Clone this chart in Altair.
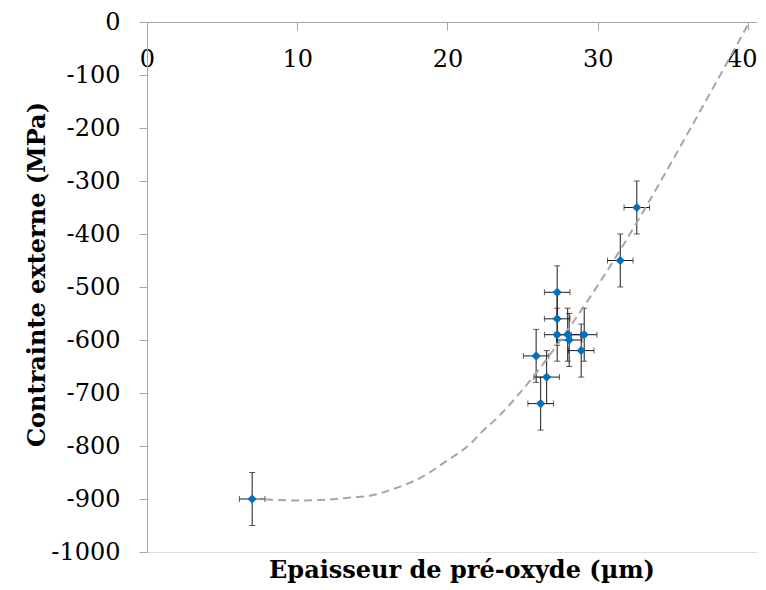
import altair as alt
import pandas as pd

# ---- data ----
thickness = [7.0, 25.9, 26.2, 26.6, 27.3, 27.3, 27.3, 28.0, 28.1, 28.9, 29.1, 31.5, 32.6]
stress = [-900, -630, -720, -670, -510, -560, -590, -590, -600, -620, -590, -450, -350]
thickness_err = [0.85] * 13
stress_err = [50] * 13

curve_x = [7.0, 8.9, 10.0, 11.5, 13.3, 15.0, 16.2, 18.2, 19.9, 21.7, 22.2, 23.3, 25.8, 28.1, 31.5, 34.3, 34.8, 40.0]
curve_y = [-900, -902, -903, -902, -898, -893, -883, -860, -829, -791, -776, -747, -666, -577, -430, -295, -270, -5]

x_ticks = [0, 10, 20, 30, 40]
y_ticks = list(range(-1000, 1, 100))

pts = pd.DataFrame({"x": thickness, "y": stress, "xe": thickness_err, "ye": stress_err})
pts["xlo"] = pts["x"] - pts["xe"]
pts["xhi"] = pts["x"] + pts["xe"]
pts["ylo"] = pts["y"] - pts["ye"]
pts["yhi"] = pts["y"] + pts["ye"]
curve = pd.DataFrame({"x": curve_x, "y": curve_y})

FONT = "DejaVu Serif"
AXIS_GRAY = "#A6A6A6"
label_expr = "datum.value < 0 ? '-' + format(-datum.value, 'd') : format(datum.value, 'd')"

xscale = alt.Scale(domain=[0, 40.6], nice=False, zero=False)
yscale = alt.Scale(domain=[-1000, 0], nice=False, zero=False)

xaxis = alt.Axis(
    values=x_ticks, orient="bottom", offset=-530, tickSize=8, labelPadding=17,
    labelFont=FONT, labelFontSize=24, labelColor="#000000",
    labelAlign=alt.ConditionalAxisLabelAlign(
        condition={"test": "datum.value >= 40", "value": "right"}, value="center"
    ),
    labelOffset=alt.ConditionalAxisNumber(
        condition={"test": "datum.value >= 40", "value": 9}, value=0
    ),
    domainColor=AXIS_GRAY, tickColor=AXIS_GRAY, grid=False, title=None,
    labelFlush=False, labelOverlap=False, labelExpr=label_expr,
)
yaxis = alt.Axis(
    values=y_ticks, orient="left", tickSize=8, labelPadding=19,
    labelFont=FONT, labelFontSize=24, labelColor="#000000",
    domainColor=AXIS_GRAY, tickColor=AXIS_GRAY, grid=False,
    labelFlush=False, labelOverlap=False, labelExpr=label_expr,
    title="Contrainte externe (MPa)", titleFont=FONT, titleFontSize=24,
    titleFontWeight="bold", titleColor="#000000", titleAngle=270,
    titleX=-103, titleY=252, titleBaseline="alphabetic", titleAlign="center",
)

X = alt.X("x:Q", scale=xscale, axis=xaxis)
Y = alt.Y("y:Q", scale=yscale, axis=yaxis)

base = alt.Chart(pts)
BAR = "#1a1a1a"

ybars = base.mark_rule(color=BAR, strokeWidth=1).encode(x=X, y=alt.Y("ylo:Q", scale=yscale, axis=yaxis), y2="yhi:Q")
xbars = base.mark_rule(color=BAR, strokeWidth=1).encode(x=alt.X("xlo:Q", scale=xscale, axis=xaxis), x2="xhi:Q", y=Y)
ycap_lo = base.mark_tick(orient="horizontal", size=6, thickness=1, color=BAR).encode(x=X, y=alt.Y("ylo:Q", scale=yscale, axis=yaxis))
ycap_hi = base.mark_tick(orient="horizontal", size=6, thickness=1, color=BAR).encode(x=X, y=alt.Y("yhi:Q", scale=yscale, axis=yaxis))
xcap_lo = base.mark_tick(orient="vertical", size=6, thickness=1, color=BAR).encode(x=alt.X("xlo:Q", scale=xscale, axis=xaxis), y=Y)
xcap_hi = base.mark_tick(orient="vertical", size=6, thickness=1, color=BAR).encode(x=alt.X("xhi:Q", scale=xscale, axis=xaxis), y=Y)

line = alt.Chart(curve).mark_line(
    color=AXIS_GRAY, strokeDash=[8, 5], strokeWidth=2, interpolate="monotone"
).encode(x=X, y=Y)

points = base.mark_point(shape="diamond", filled=True, size=85, color="#0070C0", opacity=1).encode(x=X, y=Y)

chart = alt.layer(ybars, xbars, ycap_lo, ycap_hi, xcap_lo, xcap_hi, line, points).properties(
    width=610,
    height=530,
    padding={"left": 139, "top": 14, "right": 0, "bottom": 38},
    autosize=alt.AutoSizeParams(type="none"),
    title=alt.TitleParams(
        text="Epaisseur de pré-oxyde (µm)", orient="bottom", frame="group",
        anchor="middle", offset=-5, dx=10, font=FONT, fontSize=24,
        fontWeight="bold", color="#000000",
    ),
).configure_view(strokeWidth=0).configure(background="white")

chart.save("out.html", embed_options={"renderer": "svg", "actions": False})
